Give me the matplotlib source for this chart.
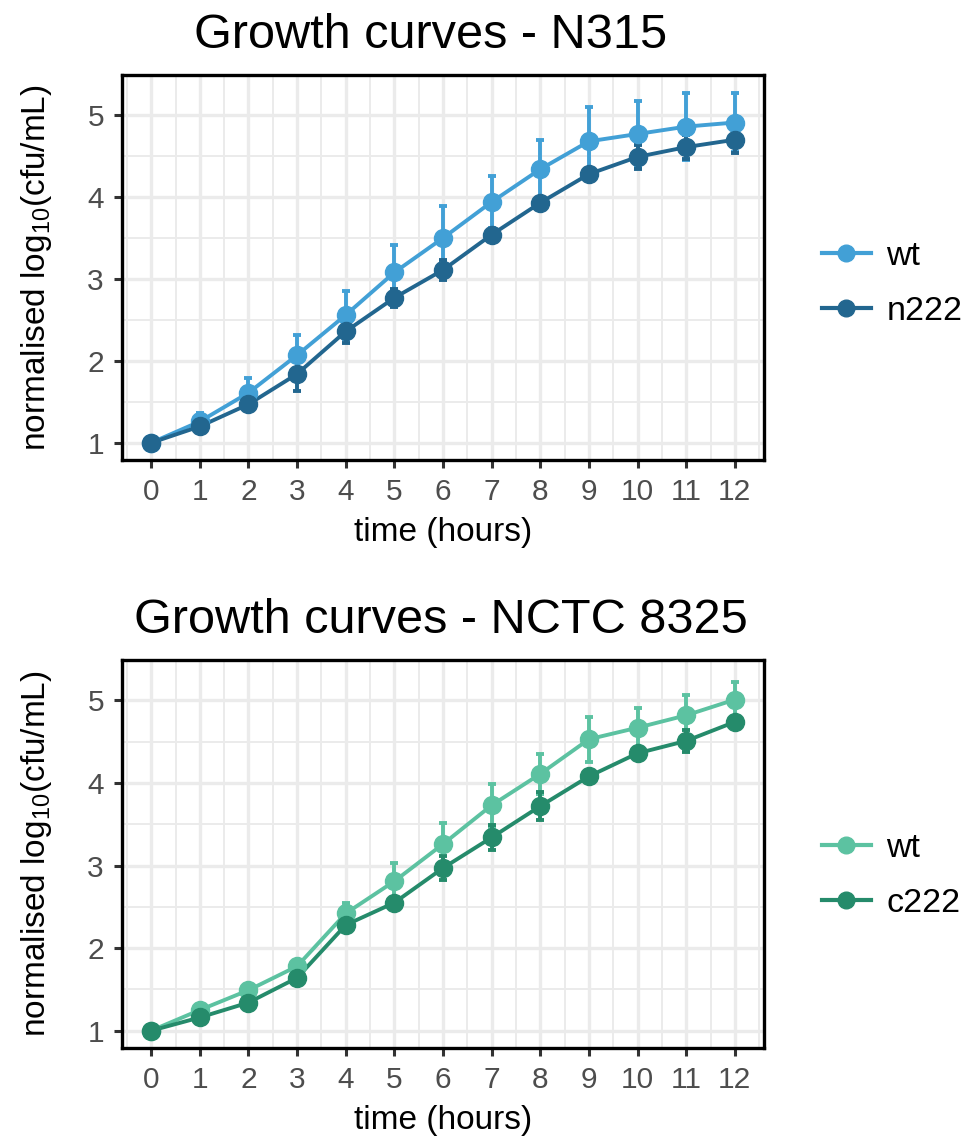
import matplotlib
matplotlib.use("Agg")
import matplotlib.pyplot as plt
from matplotlib.ticker import MultipleLocator

plt.rcParams['font.family'] = ['Liberation Sans', 'DejaVu Sans']
plt.rcParams['mathtext.fontset'] = 'custom'
plt.rcParams['mathtext.rm'] = 'Liberation Sans'
plt.rcParams['mathtext.it'] = 'Liberation Sans'

# time points (hours)
hours = list(range(13))

# N315 panel
n315_labels = ["wt", "n222"]
n315_wt = [1.00, 1.26, 1.61, 2.07, 2.56, 3.08, 3.50, 3.94, 4.34, 4.68, 4.77, 4.86, 4.91]
n315_wt_err = [0.00, 0.10, 0.18, 0.25, 0.29, 0.33, 0.39, 0.32, 0.36, 0.42, 0.40, 0.41, 0.36]
n315_mut = [1.00, 1.20, 1.47, 1.84, 2.36, 2.77, 3.11, 3.54, 3.93, 4.28, 4.49, 4.61, 4.70]
n315_mut_err = [0.00, 0.05, 0.05, 0.21, 0.14, 0.11, 0.12, 0.05, 0.04, 0.04, 0.15, 0.15, 0.16]

# NCTC 8325 panel
nctc_labels = ["wt", "c222"]
nctc_wt = [1.00, 1.25, 1.49, 1.78, 2.42, 2.81, 3.26, 3.73, 4.11, 4.53, 4.67, 4.82, 5.01]
nctc_wt_err = [0.00, 0.04, 0.04, 0.05, 0.13, 0.22, 0.25, 0.26, 0.24, 0.27, 0.24, 0.25, 0.21]
nctc_mut = [1.00, 1.16, 1.34, 1.64, 2.28, 2.55, 2.97, 3.34, 3.72, 4.08, 4.36, 4.51, 4.74]
nctc_mut_err = [0.00, 0.03, 0.04, 0.04, 0.05, 0.05, 0.15, 0.15, 0.17, 0.04, 0.05, 0.13, 0.05]


def draw_panel(ax, wt, wt_err, mut, mut_err, labels, colors, title, title_x, title_y, leg_y):
    # error bars under everything
    for y, e, c in [(wt, wt_err, colors[0]), (mut, mut_err, colors[1])]:
        ax.errorbar(hours, y, yerr=e, fmt="none", ecolor=c, elinewidth=2.8,
                    capsize=2.8, capthick=2.8, zorder=2)
    lines = []
    for i, (y, c, lab) in enumerate([(wt, colors[0], labels[0]), (mut, colors[1], labels[1])]):
        ax.plot(hours, y, color=c, lw=2.8, zorder=3)
        ax.plot(hours, y, "o", color=c, ms=13, zorder=4 + i)
        h, = ax.plot([], [], color=c, lw=3.0, marker="o", ms=12)
        lines.append(h)

    ax.set_xlim(-0.6, 12.6)
    ax.set_ylim(0.79, 5.49)
    ax.xaxis.set_major_locator(MultipleLocator(1))
    ax.xaxis.set_minor_locator(MultipleLocator(0.5))
    ax.yaxis.set_major_locator(MultipleLocator(1))
    ax.yaxis.set_minor_locator(MultipleLocator(0.5))
    ax.grid(which="major", color="#EBEBEB", lw=2.4, zorder=0)
    ax.grid(which="minor", color="#EBEBEB", lw=1.4, zorder=0)
    ax.set_axisbelow(True)
    ax.tick_params(which="major", length=6, width=2.2, color="#333333",
                   labelsize=21.5, labelcolor="#4D4D4D", pad=7)
    ax.tick_params(which="minor", length=0)
    for s in ax.spines.values():
        s.set_linewidth(2.4)
        s.set_color("black")
    ax.set_xlabel("time (hours)", fontsize=24, labelpad=8)
    ax.set_ylabel(r"normalised log$_{10}$(cfu/mL)", fontsize=24, labelpad=24)
    fig.text(title_x, title_y, title, fontsize=35, ha="center", va="baseline")
    ax.legend(lines, labels, loc="center left", bbox_to_anchor=(1.09, leg_y),
              frameon=False, fontsize=24.5, handlelength=1.45, handletextpad=0.45,
              labelspacing=0.7, borderpad=0, borderaxespad=0)


fig = plt.figure(figsize=(9.66, 11.46), dpi=100)
ax1 = fig.add_axes([122 / 966, 1 - 460 / 1146, 642 / 966, 385 / 1146])
ax2 = fig.add_axes([122 / 966, 1 - 1048 / 1146, 642 / 966, 388 / 1146])

draw_panel(ax1, n315_wt, n315_wt_err, n315_mut, n315_mut_err, n315_labels,
           ["#42A0D6", "#22668F"], "Growth curves - N315", 431 / 966, 1 - 48 / 1146, 0.458)
draw_panel(ax2, nctc_wt, nctc_wt_err, nctc_mut, nctc_mut_err, nctc_labels,
           ["#5CC2A1", "#258B6B"], "Growth curves - NCTC 8325", 441 / 966, 1 - 633 / 1146, 0.443)

fig.savefig("out.png", dpi=100)
